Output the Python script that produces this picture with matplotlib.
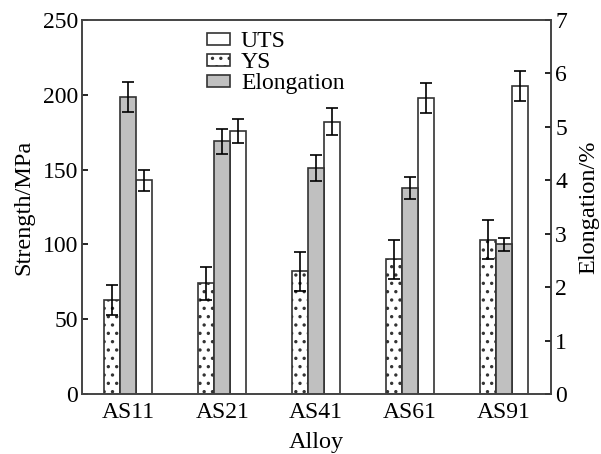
import numpy as np
import matplotlib
matplotlib.use('Agg')
import matplotlib.pyplot as plt

plt.rcParams['font.family'] = ['Liberation Serif', 'DejaVu Serif']
plt.rcParams['hatch.linewidth'] = 1.2

# data
alloys = ['AS11', 'AS21', 'AS41', 'AS61', 'AS91']
uts = [143, 176, 182, 198, 206]
uts_err = [7, 8, 9, 10, 10]
ys = [63, 74, 82, 90, 103]
ys_err = [10, 11, 13, 13, 13]
elong = [5.56, 4.73, 4.23, 3.86, 2.80]
elong_err = [0.28, 0.23, 0.25, 0.21, 0.12]

x = np.arange(len(alloys))
w = 0.17

fig, ax = plt.subplots(figsize=(6.01, 4.54), dpi=100)
fig.subplots_adjust(left=0.137, right=0.917, top=0.956, bottom=0.132)
ax2 = ax.twinx()

ek = dict(ecolor='black', elinewidth=1.2, capsize=4, capthick=1.2)
b_uts = ax.bar(x + w, uts, w, yerr=uts_err, color='white', edgecolor='#333333',
               linewidth=1.2, label='UTS', error_kw=ek)
b_ys = ax.bar(x - w, ys, w, yerr=ys_err, color='white', edgecolor='#333333',
              linewidth=1.2, hatch='..', label='YS', error_kw=ek)
b_el = ax2.bar(x, elong, w, yerr=elong_err, color='#c0c0c0', edgecolor='#333333',
               linewidth=1.2, label='Elongation', error_kw=ek)

ax.set_xlim(-0.49, 4.5)
ax.set_ylim(0, 250)
ax2.set_ylim(0, 7)
ax.set_yticks(range(0, 251, 50))
ax2.set_yticks(range(0, 8))
ax.set_xticks(x)
ax.set_xticklabels(alloys)

for a in (ax, ax2):
    a.tick_params(direction='in', labelsize=17, length=4, width=1.2, pad=3)
    for s in a.spines.values():
        s.set_linewidth(1.2)
        s.set_color('#444444')
ax.tick_params(axis='x', length=0, pad=6)

ax.set_ylabel('Strength/MPa', fontsize=17.5, labelpad=6)
ax2.set_ylabel('Elongation/%', fontsize=17.5, labelpad=8)
ax.set_xlabel('Alloy', fontsize=17.5, labelpad=6)

ax.legend([b_uts, b_ys, b_el], ['UTS', 'YS', 'Elongation'],
          loc='upper left', bbox_to_anchor=(0.245, 0.995), frameon=False,
          fontsize=17, handlelength=1.0, handleheight=0.45,
          handletextpad=0.45, labelspacing=0.0, borderaxespad=0)

fig.savefig('out.png', dpi=100)
